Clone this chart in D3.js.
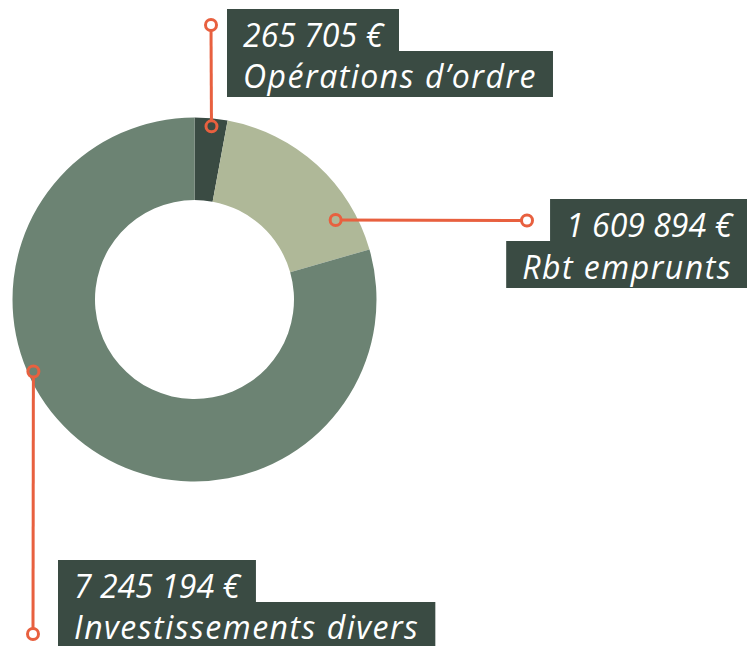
<!DOCTYPE html>
<html>
<head>
<meta charset="utf-8">
<script src="https://cdn.jsdelivr.net/npm/d3@7"></script>
<style>
  html, body { margin: 0; padding: 0; background: #fff; }
  svg { display: block; }
  .lbl { font-family: "Open Sans", "Noto Sans", sans-serif; font-style: italic; fill: #fff; font-size: 32px; }
  .lbl.name { letter-spacing: 1.5px; }
</style>
</head>
<body>
<div id="chart"></div>
<script>
// data
var categories = ['Opérations d’ordre', 'Rbt emprunts', 'Investissements divers'];
var amounts = [265705, 1609894, 7245194];
var amountLabels = ['265 705 €', '1 609 894 €', '7 245 194 €'];

var width = 747, height = 646;
var cx = 194.5, cy = 299.5;
var colors = ['#3a4b43', '#afb898', '#6c8373'];
var accent = '#e8603f';
var boxFill = '#3a4b43';

// where each leader touches the ring (deg clockwise from top, radius) and where it ends
var callouts = [
  {angle: 5.6, r: 174, end: [211, 25], anchor: 'start', tx: 243, y0: 47, y1: 88},
  {angle: 60.6, r: 162, end: [527, 220.5], anchor: 'end', tx: 732, y0: 237, y1: 279},
  {angle: 245.9, r: 176.5, end: [33, 634], anchor: 'start', tx: 74, y0: 598, y1: 639}
];

var svg = d3.select('#chart').append('svg')
  .attr('width', width)
  .attr('height', height);

var pie = d3.pie().sort(null).value(function(d){ return d; });
var arc = d3.arc().innerRadius(99.5).outerRadius(182);

var g = svg.append('g').attr('transform', 'translate(' + cx + ',' + cy + ')');

g.selectAll('path.slice')
  .data(pie(amounts))
  .enter()
  .append('path')
  .attr('class', 'slice')
  .attr('d', arc)
  .attr('fill', function(d, i){ return colors[i]; });

function ringPoint(c){
  var a = c.angle * Math.PI / 180;
  return [cx + c.r * Math.sin(a), cy - c.r * Math.cos(a)];
}

var padX = 16;

callouts.forEach(function(c, i){
  var p = ringPoint(c);

  svg.append('line')
    .attr('x1', p[0]).attr('y1', p[1])
    .attr('x2', c.end[0]).attr('y2', c.end[1])
    .attr('stroke', accent)
    .attr('stroke-width', 3);

  svg.append('circle')
    .attr('cx', p[0]).attr('cy', p[1]).attr('r', 5.5)
    .attr('fill', colors[i])
    .attr('stroke', accent).attr('stroke-width', 3);

  svg.append('circle')
    .attr('cx', c.end[0]).attr('cy', c.end[1]).attr('r', 5.5)
    .attr('fill', '#fff')
    .attr('stroke', accent).attr('stroke-width', 3);

  var lg = svg.append('g');
  var boxes = lg.append('g');

  var t0 = lg.append('text')
    .attr('class', 'lbl value')
    .attr('x', c.tx).attr('y', c.y0)
    .attr('text-anchor', c.anchor)
    .text(amountLabels[i]);

  var t1 = lg.append('text')
    .attr('class', 'lbl name')
    .attr('x', c.tx).attr('y', c.y1)
    .attr('text-anchor', c.anchor)
    .text(categories[i]);

  [t0, t1].forEach(function(t, k){
    var w = t.node().getComputedTextLength();
    var x0 = c.anchor === 'end' ? c.tx - w - padX : c.tx - padX;
    var x1 = c.anchor === 'end' ? width : c.tx + w + padX;
    var top = k === 0 ? c.y0 - 38 : c.y0 + 4;
    var bottom = k === 0 ? c.y0 + 4 : c.y1 + 9;
    boxes.append('rect')
      .attr('x', x0).attr('y', top)
      .attr('width', x1 - x0).attr('height', bottom - top)
      .attr('fill', boxFill);
  });
});
</script>
</body>
</html>
